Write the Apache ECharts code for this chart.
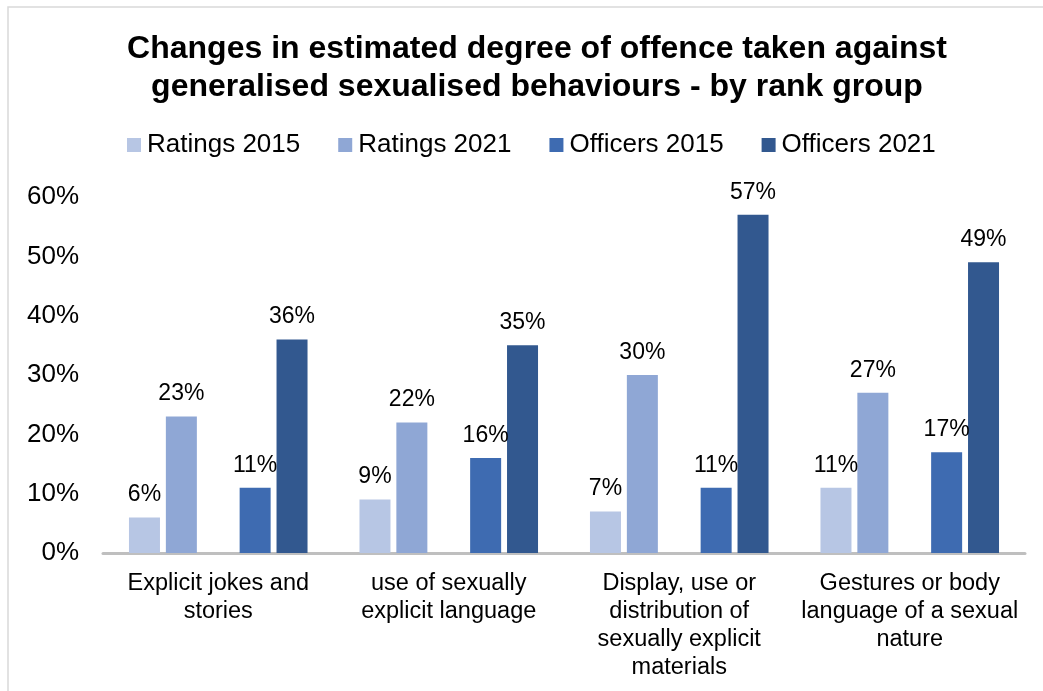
<!DOCTYPE html>
<html>
<head>
<meta charset="utf-8">
<script src="https://cdn.jsdelivr.net/npm/echarts@6/dist/echarts.min.js"></script>
<style>
  html, body { margin: 0; padding: 0; background: #ffffff; }
  #chart { width: 1043px; height: 691px; }
</style>
</head>
<body>
<div id="chart"></div>
<script>
// Behaviour categories (x axis)
const categories = [
  'Explicit jokes and\nstories',
  'use of sexually\nexplicit language',
  'Display, use or\ndistribution of\nsexually explicit\nmaterials',
  'Gestures or body\nlanguage of a sexual\nnature'
];

// Share of respondents taking offence, in percent
const ratings2015 = [6, 9, 7, 11];
const ratings2021 = [23, 22, 30, 27];
const officers2015 = [11, 16, 11, 17];
const officers2021 = [36, 35, 57, 49];

const seriesNames = ['Ratings 2015', 'Ratings 2021', 'Officers 2015', 'Officers 2021'];
const seriesColors = ['#b7c6e4', '#8fa7d5', '#3e6bb1', '#32588f'];

const yTicks = { min: 0, max: 60, interval: 10 };

const FONT = '"Liberation Sans", Arial, sans-serif';

function barSeries(name, values, color) {
  return {
    name: name,
    type: 'bar',
    data: values,
    barWidth: 31,
    barGap: '19%',
    itemStyle: { color: color },
    label: {
      show: true,
      position: 'top',
      distance: 11,
      formatter: '{c}%',
      color: '#000000',
      fontFamily: FONT,
      fontSize: 23
    },
    emphasis: { disabled: true }
  };
}

const chart = echarts.init(document.getElementById('chart'), null, { renderer: 'canvas' });

chart.setOption({
  backgroundColor: '#ffffff',
  animation: false,
  graphic: [{
    type: 'rect',
    shape: { x: 8, y: 7, width: 1200, height: 900 },
    style: { fill: 'none', stroke: '#d9d9d9', lineWidth: 1.5 },
    silent: true,
    z: -1
  }],
  title: {
    text: 'Changes in estimated degree of offence taken against\ngeneralised sexualised behaviours - by rank group',
    left: 532,
    top: 25,
    textAlign: 'center',
    textStyle: {
      fontFamily: FONT,
      fontWeight: 'bold',
      fontSize: 32,
      lineHeight: 38,
      color: '#000000'
    }
  },
  legend: {
    data: seriesNames,
    left: 127,
    top: 131,
    padding: 0,
    icon: 'rect',
    itemWidth: 14,
    itemHeight: 14,
    itemGap: 38,
    textStyle: {
      fontFamily: FONT,
      fontSize: 26,
      lineHeight: 28,
      color: '#000000',
      padding: [0, 0, 0, 1]
    }
  },
  grid: {
    left: 103,
    right: 18,
    top: 197,
    bottom: 138,
    containLabel: false
  },
  xAxis: {
    type: 'category',
    data: categories,
    axisTick: { show: false },
    axisLine: { show: true, lineStyle: { color: '#bfbfbf', width: 3 } },
    axisLabel: {
      interval: 0,
      margin: 17,
      color: '#000000',
      fontFamily: FONT,
      fontSize: 23.5,
      lineHeight: 28,
      align: 'center'
    },
    splitLine: { show: false }
  },
  yAxis: {
    type: 'value',
    min: yTicks.min,
    max: yTicks.max,
    interval: yTicks.interval,
    axisLine: { show: false },
    axisTick: { show: false },
    splitLine: { show: false },
    axisLabel: {
      margin: 24,
      formatter: '{value}%',
      color: '#000000',
      fontFamily: FONT,
      fontSize: 26
    }
  },
  series: [
    barSeries(seriesNames[0], ratings2015, seriesColors[0]),
    barSeries(seriesNames[1], ratings2021, seriesColors[1]),
    // empty slot separating the ratings pair from the officers pair
    {
      name: 'spacer',
      type: 'bar',
      data: categories.map(() => '-'),
      barWidth: 31,
      barGap: '19%',
      silent: true
    },
    barSeries(seriesNames[2], officers2015, seriesColors[2]),
    barSeries(seriesNames[3], officers2021, seriesColors[3])
  ]
});
</script>
</body>
</html>
